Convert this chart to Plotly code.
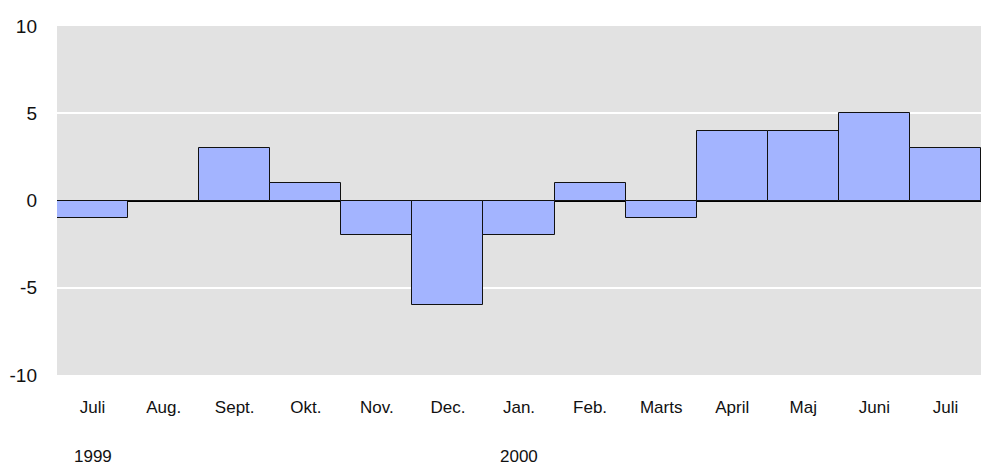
import plotly.graph_objects as go

months = ["Juli", "Aug.", "Sept.", "Okt.", "Nov.", "Dec.", "Jan.", "Feb.",
          "Marts", "April", "Maj", "Juni", "Juli"]
values = [-1, 0, 3, 1, -2, -6, -2, 1, -1, 4, 4, 5, 3]
year_labels = ["1999", "2000"]
year_positions = [0, 6]
y_ticks = [-10, -5, 0, 5, 10]
y_tick_text = ["-10", "-5", "0", "5", "10"]

x = list(range(len(months)))

fig = go.Figure()
fig.add_trace(go.Bar(
    x=x, y=values,
    marker=dict(color="#a3b4ff", line=dict(color="#111111", width=1)),
    width=1.0,
))

fam = "Liberation Sans, Arial, Helvetica, sans-serif"
xfont = dict(family=fam, size=17, color="#111111")
yfont = dict(family=fam, size=19, color="#111111")

for lbl, pos in zip(year_labels, year_positions):
    fig.add_annotation(x=pos, y=-0.233, xref="x", yref="paper", text=lbl,
                       showarrow=False, font=xfont, yanchor="middle")

fig.update_layout(
    width=981, height=466, autosize=False,
    margin=dict(l=57, r=0, t=26, b=91),
    paper_bgcolor="white",
    plot_bgcolor="#e2e2e2",
    bargap=0,
    showlegend=False,
    font=xfont,
    xaxis=dict(
        tickmode="array", tickvals=x, ticktext=months,
        range=[-0.5, len(months) - 0.5],
        showgrid=False, zeroline=False, showline=False,
        ticks="", ticklabelstandoff=20, tickfont=xfont,
        fixedrange=True,
    ),
    yaxis=dict(
        range=[-10, 10], tickmode="array", tickvals=y_ticks, ticktext=y_tick_text,
        showgrid=True, gridcolor="white", gridwidth=2,
        zeroline=True, zerolinecolor="black", zerolinewidth=2,
        showline=False, ticks="", ticklabelstandoff=19, tickfont=yfont,
        fixedrange=True,
    ),
)

post = (
    "document.body.style.margin='0';"
    "document.body.style.padding='0';"
    "document.body.style.overflow='hidden';"
    "var gd=document.getElementById('{plot_id}');"
    "gd.style.width='981px';gd.style.height='466px';"
    "Plotly.relayout(gd,{width:981,height:466});"
)

fig.write_html("out.html", config={"responsive": False, "displayModeBar": False},
               post_script=post)
